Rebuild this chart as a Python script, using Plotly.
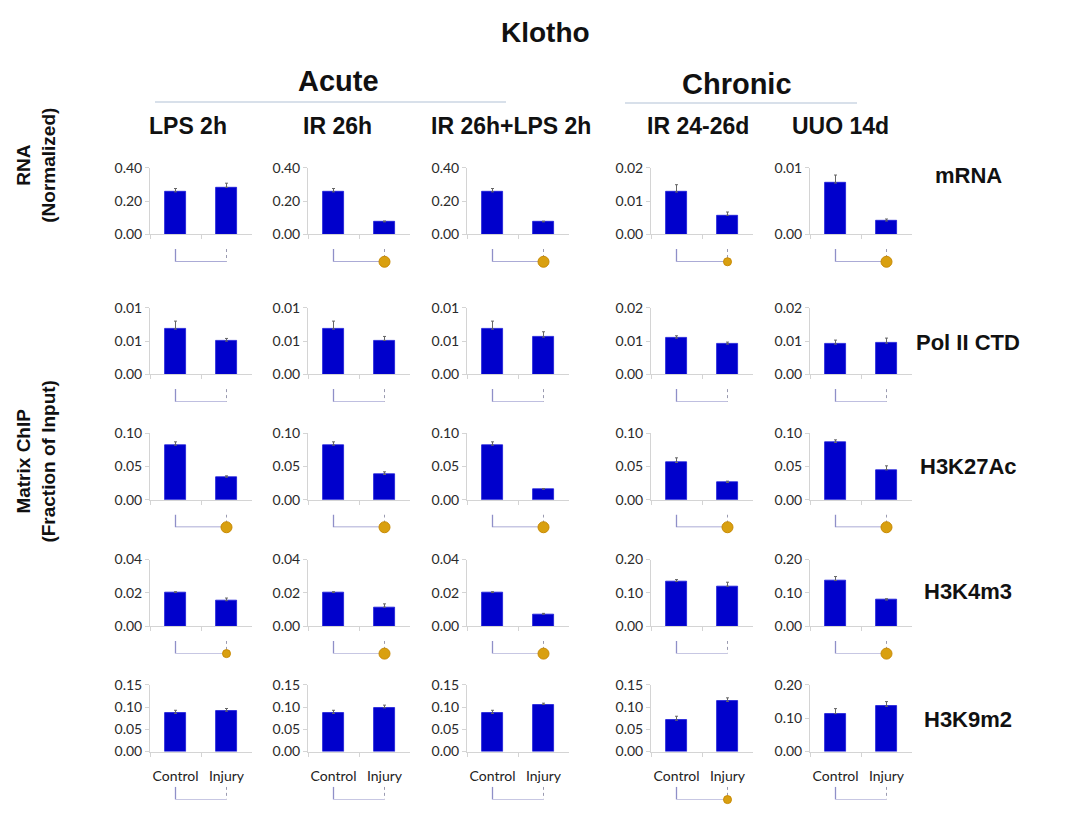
import plotly.graph_objects as go

W, H = 1083, 836

categories = ["Control", "Injury"]
models = ["LPS 2h", "IR 26h", "IR 26h+LPS 2h", "IR 24-26d", "UUO 14d"]
marks = ["mRNA", "Pol II CTD", "H3K27Ac", "H3K4m3", "H3K9m2"]

# mean values per mark (rows) and model (columns)
mrna_control = [0.255, 0.255, 0.255, 0.0127, 0.0077]
mrna_injury = [0.282, 0.075, 0.075, 0.0057, 0.0020]
pol2_control = [0.0068, 0.0068, 0.0068, 0.0109, 0.0091]
pol2_injury = [0.0050, 0.0051, 0.0056, 0.0091, 0.0094]
h3k27ac_control = [0.082, 0.082, 0.082, 0.056, 0.086]
h3k27ac_injury = [0.034, 0.038, 0.016, 0.026, 0.045]
h3k4m3_control = [0.0202, 0.0202, 0.0202, 0.134, 0.137]
h3k4m3_injury = [0.0153, 0.0114, 0.0072, 0.120, 0.0785]
h3k9m2_control = [0.086, 0.086, 0.086, 0.0706, 0.114]
h3k9m2_injury = [0.091, 0.0986, 0.106, 0.113, 0.136]

# standard errors (upper whisker only)
mrna_control_err = [0.020, 0.020, 0.020, 0.0022, 0.0012]
mrna_injury_err = [0.025, 0.005, 0.004, 0.0010, 0.0003]
pol2_control_err = [0.0012, 0.0012, 0.0012, 0.0007, 0.0012]
pol2_injury_err = [0.0004, 0.0006, 0.0008, 0.0006, 0.0015]
h3k27ac_control_err = [0.005, 0.005, 0.005, 0.007, 0.004]
h3k27ac_injury_err = [0.002, 0.004, 0.001, 0.002, 0.006]
h3k4m3_control_err = [0.0005, 0.0005, 0.0005, 0.006, 0.012]
h3k4m3_injury_err = [0.0016, 0.0020, 0.0005, 0.012, 0.004]
h3k9m2_control_err = [0.007, 0.007, 0.007, 0.009, 0.015]
h3k9m2_injury_err = [0.006, 0.006, 0.003, 0.008, 0.014]

# y-axis maximum and tick step per panel
mrna_ymax = [0.40, 0.40, 0.40, 0.02, 0.01]
mrna_step = [0.20, 0.20, 0.20, 0.01, 0.01]
pol2_ymax = [0.01, 0.01, 0.01, 0.02, 0.02]
pol2_step = [0.005, 0.005, 0.005, 0.01, 0.01]
h3k27ac_ymax = [0.10, 0.10, 0.10, 0.10, 0.10]
h3k27ac_step = [0.05, 0.05, 0.05, 0.05, 0.05]
h3k4m3_ymax = [0.04, 0.04, 0.04, 0.20, 0.20]
h3k4m3_step = [0.02, 0.02, 0.02, 0.10, 0.10]
h3k9m2_ymax = [0.15, 0.15, 0.15, 0.15, 0.20]
h3k9m2_step = [0.05, 0.05, 0.05, 0.05, 0.10]

# significance marker: 0 = none, 1 = small dot, 2 = large dot
mrna_sig = [0, 2, 2, 1, 2]
pol2_sig = [0, 0, 0, 0, 0]
h3k27ac_sig = [2, 2, 2, 2, 2]
h3k4m3_sig = [1, 2, 2, 0, 2]
h3k9m2_sig = [0, 0, 0, 1, 0]

rows = [
    (mrna_control, mrna_injury, mrna_control_err, mrna_injury_err, mrna_ymax, mrna_step, mrna_sig),
    (pol2_control, pol2_injury, pol2_control_err, pol2_injury_err, pol2_ymax, pol2_step, pol2_sig),
    (h3k27ac_control, h3k27ac_injury, h3k27ac_control_err, h3k27ac_injury_err, h3k27ac_ymax, h3k27ac_step, h3k27ac_sig),
    (h3k4m3_control, h3k4m3_injury, h3k4m3_control_err, h3k4m3_injury_err, h3k4m3_ymax, h3k4m3_step, h3k4m3_sig),
    (h3k9m2_control, h3k9m2_injury, h3k9m2_control_err, h3k9m2_injury_err, h3k9m2_ymax, h3k9m2_step, h3k9m2_sig),
]

# panel geometry in pixels
col_left = [150, 308, 467, 651, 810]
panel_w = 102
row_top = [162, 305, 433, 562, 690]
panel_h = 68
bracket_gap = [15, 15, 15, 15, 36]
bracket_h = 13

BAR = "#0000CC"
AXIS = "#d4d4d4"
BRACKET = "#8f8fc8"
GOLD = "#D9A010"
TICKFONT = dict(family="Lato, Open Sans, sans-serif", size=14, color="#2a2a2a")


def px_x(v):
    return v / W


def px_y(v):
    return 1 - v / H


fig = go.Figure()
layout_axes = {}
n = 0
for r, (c_vals, i_vals, c_err, i_err, ymax, step, sig) in enumerate(rows):
    for c in range(5):
        n += 1
        xa = "x" if n == 1 else f"x{n}"
        ya = "y" if n == 1 else f"y{n}"
        bn = n + 25
        yb = f"y{bn}"
        x0 = col_left[c]
        y_top = row_top[r]
        y_bot = y_top + panel_h

        fig.add_trace(go.Bar(
            x=categories, y=[c_vals[c], i_vals[c]],
            width=0.43,
            marker=dict(color=BAR, line=dict(color="#1a1ad8", width=0.8)),
            error_y=dict(type="data", symmetric=False,
                         array=[c_err[c], i_err[c]], arrayminus=[0, 0],
                         color="#666666", thickness=1, width=1.5),
            xaxis=xa, yaxis=ya, showlegend=False, hoverinfo="skip",
        ))

        nt = int(round(ymax[c] / step[c]))
        tv = [k * step[c] for k in range(nt + 1)]
        tt = [f"{v:.2f}" for v in tv]

        layout_axes["xaxis" if n == 1 else f"xaxis{n}"] = dict(
            domain=[px_x(x0), px_x(x0 + panel_w)], anchor=ya,
            type="category", range=[-0.5, 1.5],
            showline=True, linecolor=AXIS, linewidth=1,
            ticks="outside", tickson="boundaries", ticklen=4, tickcolor=AXIS,
            showticklabels=(r == 4), tickangle=0, ticklabelstandoff=12,
            tickfont=dict(family="Lato, Open Sans, sans-serif", size=14, color="#222222"),
            showgrid=False, zeroline=False, fixedrange=True,
        )
        layout_axes["yaxis" if n == 1 else f"yaxis{n}"] = dict(
            domain=[px_y(y_bot), px_y(y_top)], anchor=xa,
            range=[0, ymax[c]], tickvals=tv, ticktext=tt,
            showline=True, linecolor=AXIS, linewidth=1,
            ticks="outside", ticklen=4, tickcolor=AXIS,
            tickfont=TICKFONT, showgrid=False, zeroline=False, fixedrange=True,
        )

        # significance bracket below each panel
        b_top = y_bot + bracket_gap[r]
        b_bot = b_top + bracket_h
        layout_axes[f"yaxis{bn}"] = dict(
            domain=[px_y(b_bot), px_y(b_top)], anchor=xa,
            range=[0, 1], visible=False, fixedrange=True,
        )
        fig.add_trace(go.Scatter(
            x=["Control", "Control", "Injury"], y=[1, 0, 0],
            mode="lines", line=dict(color=BRACKET, width=1.3),
            xaxis=xa, yaxis=yb, showlegend=False, hoverinfo="skip", cliponaxis=False,
        ))
        fig.add_trace(go.Scatter(
            x=["Injury", "Injury"], y=[1, 0],
            mode="lines", line=dict(color="#9a9ab0", width=1, dash="dot"),
            xaxis=xa, yaxis=yb, showlegend=False, hoverinfo="skip", cliponaxis=False,
        ))
        if sig[c]:
            fig.add_trace(go.Scatter(
                x=["Injury"], y=[0], mode="markers",
                marker=dict(color=GOLD, size=11 if sig[c] == 2 else 8,
                            line=dict(color="#C88A05", width=1)),
                xaxis=xa, yaxis=yb, showlegend=False, hoverinfo="skip", cliponaxis=False,
            ))

BOLD = "Liberation Sans, Arial, sans-serif"
annotations = [
    dict(text="<b>Klotho</b>", x=px_x(545), y=px_y(24), font=dict(family=BOLD, size=28, color="#111")),
    dict(text="<b>Acute</b>", x=px_x(338), y=px_y(73), font=dict(family=BOLD, size=29, color="#111")),
    dict(text="<b>Chronic</b>", x=px_x(737), y=px_y(77), font=dict(family=BOLD, size=29, color="#111")),
]
header_x = [188, 337, 511, 698, 840]
for m, hx in zip(models, header_x):
    annotations.append(dict(text=f"<b>{m}</b>", x=px_x(hx), y=px_y(119),
                            font=dict(family=BOLD, size=23, color="#111")))
label_y = [170, 340, 467, 595, 725]
for m, ly in zip(marks, label_y):
    annotations.append(dict(text=f"<b>{m}</b>", x=px_x(968), y=px_y(ly),
                            font=dict(family=BOLD, size=22, color="#111")))
annotations.append(dict(text="<b>RNA<br>(Normalized)</b>", x=px_x(36), y=px_y(160), textangle=-90,
                        font=dict(family=BOLD, size=19, color="#111")))
annotations.append(dict(text="<b>Matrix ChIP<br>(Fraction of Input)</b>", x=px_x(36), y=px_y(462), textangle=-90,
                        font=dict(family=BOLD, size=19, color="#111")))
for a in annotations:
    a.update(xref="paper", yref="paper", showarrow=False, xanchor="center", yanchor="middle")

shapes = [
    dict(type="line", xref="paper", yref="paper", x0=px_x(155), x1=px_x(506), y0=px_y(95), y1=px_y(95),
         line=dict(color="#d8e0ea", width=2)),
    dict(type="line", xref="paper", yref="paper", x0=px_x(625), x1=px_x(857), y0=px_y(96), y1=px_y(96),
         line=dict(color="#d8e0ea", width=2)),
]

fig.update_layout(
    width=W, height=H, margin=dict(l=0, r=0, t=0, b=0),
    paper_bgcolor="white", plot_bgcolor="white",
    annotations=annotations, shapes=shapes, bargap=0, **layout_axes,
)

fig.write_html("out.html")
